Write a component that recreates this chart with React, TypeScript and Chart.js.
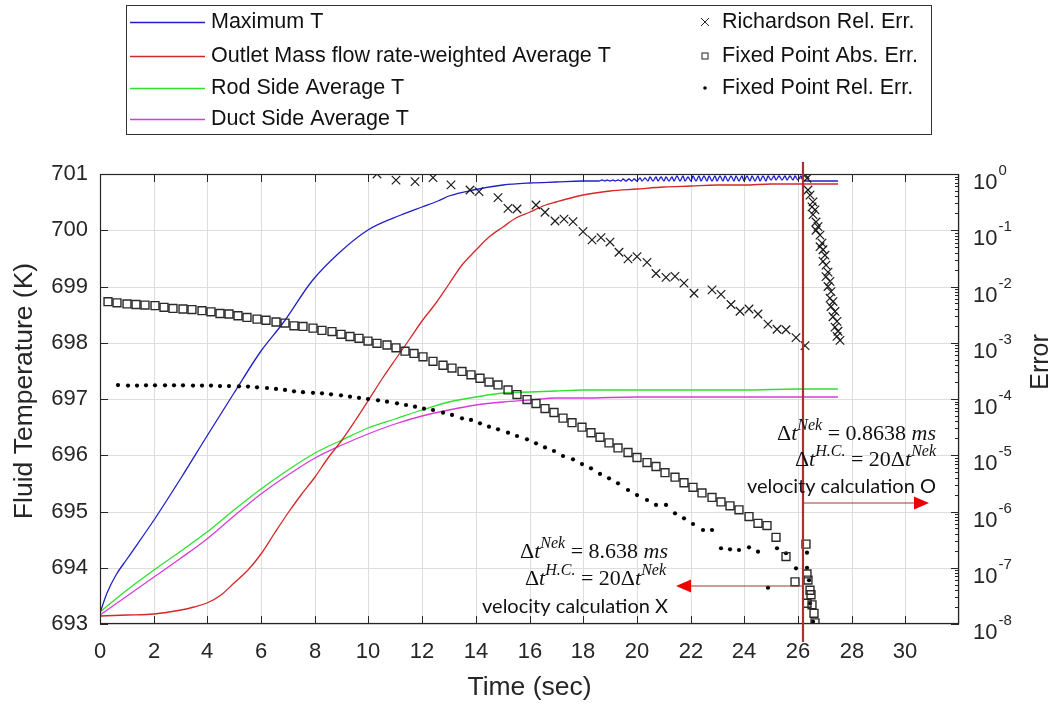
import React, { useEffect, useRef } from 'react';
import { Chart, registerables } from 'chart.js';

Chart.register(...registerables);

// ---- Temperature histories (left axis, K) ----
const maxTTime = [
  0, 0.25, 0.6, 1, 2, 3, 4, 5, 6, 6.8, 7.9, 8.9, 10, 11.2, 12, 12.6, 13, 13.9, 15, 16, 17, 18, 18.5,
  18.6, 18.7, 18.8, 18.9, 19.0, 19.1, 19.2, 19.3, 19.4, 19.5,
  19.6, 19.7, 19.8, 19.9, 20.0, 20.1, 20.2, 20.3, 20.4, 20.5,
  20.6, 20.7, 20.8, 20.9, 21.0, 21.1, 21.2, 21.3, 21.4, 21.5,
  21.6, 21.7, 21.8, 21.9, 22.0, 22.1, 22.2, 22.3, 22.4, 22.5,
  22.6, 22.7, 22.8, 22.9, 23.0, 23.1, 23.2, 23.3, 23.4, 23.5,
  23.6, 23.7, 23.8, 23.9, 24.0, 24.1, 24.2, 24.3, 24.4, 24.5,
  24.6, 24.7, 24.8, 24.9, 25.0, 25.1, 25.2, 25.3, 25.4, 25.5,
  25.6, 25.7, 25.8, 25.9, 26.0, 26.1, 26.2,
  26.3, 27.5,
];
const maxTValue = [
  693.2, 693.55, 693.88, 694.15, 694.85, 695.6, 696.35, 697.1, 697.85, 698.35, 699.1, 699.6, 700.0,
  700.28, 700.42, 700.52, 700.6, 700.72, 700.8, 700.84, 700.86, 700.87, 700.872,
  700.872, 700.886, 700.873, 700.89, 700.874, 700.893, 700.874, 700.898, 700.875, 700.903,
  700.875, 700.91, 700.876, 700.918, 700.876, 700.926, 700.877, 700.933, 700.877, 700.94,
  700.878, 700.945, 700.878, 700.95, 700.879, 700.952, 700.879, 700.955, 700.88, 700.956,
  700.88, 700.958, 700.88, 700.955, 700.881, 700.959, 700.881, 700.96, 700.881, 700.957,
  700.882, 700.961, 700.882, 700.959, 700.882, 700.962, 700.882, 700.96, 700.883, 700.963,
  700.883, 700.961, 700.883, 700.964, 700.883, 700.962, 700.884, 700.965, 700.884, 700.963,
  700.884, 700.966, 700.884, 700.964, 700.885, 700.967, 700.885, 700.965, 700.885, 700.968,
  700.885, 700.966, 700.886, 700.969, 700.886, 700.972, 700.89,
  700.875, 700.875,
];

const outletTime = [
  0, 1, 2, 3, 3.5, 4, 4.5, 5, 5.5, 6, 6.5, 7, 7.5, 8, 8.5, 9, 9.5, 10, 10.5, 11, 11.5, 12, 12.5,
  13, 13.5, 14, 14.5, 15, 15.5, 16, 16.5, 17, 18, 19, 20, 21, 22, 23, 24, 25, 26.2, 27.5,
];
const outletValue = [
  693.15, 693.16, 693.18, 693.24, 693.3, 693.38, 693.52, 693.72, 693.96, 694.25, 694.6, 694.97,
  695.3, 695.62, 695.95, 696.27, 696.6, 696.97, 697.35, 697.7, 698.05, 698.38, 698.7, 699.04,
  699.38, 699.65, 699.88, 700.06, 700.21, 700.33, 700.43, 700.51, 700.63, 700.7, 700.74, 700.77,
  700.79, 700.805, 700.812, 700.816, 700.82, 700.82,
];

const sideTime = [0, 1, 2, 3, 4, 5, 6, 7, 8, 9, 10, 11, 12, 13, 14, 15, 16, 17, 18, 20, 22, 24, 26, 27.5];
const rodValue = [
  693.22, 693.6, 693.96, 694.3, 694.64, 695.03, 695.4, 695.73, 696.04, 696.28, 696.48, 696.65,
  696.8, 696.94, 697.04, 697.1, 697.13, 697.145, 697.155, 697.162, 697.166, 697.168, 697.17, 697.17,
];
const ductValue = [
  693.16, 693.5, 693.84, 694.18, 694.52, 694.92, 695.31, 695.65, 695.95, 696.18, 696.38, 696.55,
  696.69, 696.81, 696.89, 696.95, 696.99, 697.01, 697.02, 697.027, 697.03, 697.032, 697.033, 697.033,
];

// ---- Error estimates (right axis, log) ----
const richTime = [
  10.33, 11.02, 11.73, 12.41, 13.08, 13.8, 14.13, 14.84, 15.21, 15.52, 16.24, 16.57, 16.95, 17.28,
  17.63, 17.98, 18.31, 18.65, 19.0, 19.34, 19.68, 20.01, 20.36, 20.73, 21.08, 21.42, 21.76, 22.12,
  22.78, 23.15, 23.49, 23.84, 24.18, 24.52, 24.89, 25.23, 25.57, 25.92, 26.26,
  26.28, 26.32, 26.38, 26.44, 26.57, 26.51, 26.63, 26.57, 26.69, 26.75, 26.69, 26.82, 26.88, 26.82,
  26.94, 27.0, 26.94, 27.06, 27.12, 27.06, 27.19, 27.12, 27.25, 27.19, 27.31, 27.25, 27.37, 27.31,
  27.44, 27.37, 27.5, 27.44, 27.56,
];
const richValue = [
  1.0, 0.78, 0.73, 0.86, 0.64, 0.52, 0.485, 0.38, 0.245, 0.239, 0.281, 0.209, 0.146, 0.158, 0.142,
  0.0944, 0.0676, 0.0741, 0.0617, 0.0407, 0.0309, 0.0339, 0.0269, 0.017, 0.0145, 0.0151, 0.0115,
  0.00759, 0.00871, 0.00724, 0.00479, 0.00363, 0.00398, 0.00324, 0.00214, 0.00174, 0.0017,
  0.00123, 0.000891,
  0.98, 0.84, 0.52, 0.42, 0.32, 0.26, 0.23, 0.19, 0.14, 0.116, 0.1, 0.082, 0.059, 0.051, 0.045,
  0.036, 0.028, 0.024, 0.018, 0.015, 0.0123, 0.01, 0.0081, 0.0062, 0.0054, 0.0044, 0.0036, 0.0029,
  0.0024, 0.0019, 0.0016, 0.0013, 0.0011,
];

const absTime = [
  0.31, 0.65, 0.99, 1.34, 1.68, 2.05, 2.38, 2.73, 3.08, 3.41, 3.79, 4.12, 4.47, 4.82, 5.15, 5.49,
  5.84, 6.18, 6.55, 6.89, 7.23, 7.57, 7.92, 8.26, 8.63, 8.96, 9.31, 9.66, 9.99, 10.33, 10.68, 11.02,
  11.36, 11.69, 12.04, 12.41, 12.79, 13.13, 13.47, 13.81, 14.15, 14.5, 14.83, 15.21, 15.54, 15.89,
  16.24, 16.57, 16.91, 17.26, 17.6, 17.94, 18.28, 18.62, 18.97, 19.3, 19.68, 20.01, 20.36, 20.71,
  21.04, 21.42, 21.75, 22.1, 22.44, 22.78, 23.12, 23.46, 23.81, 24.18, 24.52, 24.85, 25.2, 25.55,
  25.88, 26.29, 26.34, 26.38, 26.32, 26.44, 26.5, 26.54, 26.59, 26.63,
];
const absValue = [
  5.37e-3, 5.13e-3, 4.9e-3, 4.79e-3, 4.68e-3, 4.57e-3, 4.27e-3, 4.07e-3, 3.98e-3, 3.89e-3, 3.72e-3,
  3.55e-3, 3.31e-3, 3.24e-3, 3.02e-3, 2.82e-3, 2.63e-3, 2.51e-3, 2.34e-3, 2.24e-3, 2.0e-3, 1.95e-3,
  1.82e-3, 1.66e-3, 1.58e-3, 1.41e-3, 1.29e-3, 1.2e-3, 1.07e-3, 9.77e-4, 9.12e-4, 8.13e-4, 7.08e-4,
  6.46e-4, 5.62e-4, 4.68e-4, 3.98e-4, 3.55e-4, 3.09e-4, 2.69e-4, 2.34e-4, 2.0e-4, 1.78e-4, 1.45e-4,
  1.2e-4, 9.77e-5, 8.32e-5, 6.76e-5, 5.75e-5, 4.57e-5, 3.8e-5, 3.16e-5, 2.51e-5, 2.09e-5, 1.66e-5,
  1.35e-5, 1.12e-5, 9.12e-6, 7.41e-6, 6.31e-6, 4.9e-6, 4.07e-6, 3.24e-6, 2.69e-6, 2.14e-6, 1.78e-6,
  1.48e-6, 1.26e-6, 1.07e-6, 8.13e-7, 6.17e-7, 5.62e-7, 3.47e-7, 1.58e-7, 5.62e-8, 2.63e-7, 7.76e-8,
  6.03e-8, 2.34e-8, 3.98e-8, 3.31e-8, 2.19e-8, 1.55e-8, 1.05e-8,
];

const relTime = [
  0.68, 1.03, 1.37, 1.71, 2.06, 2.41, 2.76, 3.1, 3.45, 3.79, 4.13, 4.47, 4.82, 5.16, 5.5, 5.85,
  6.21, 6.55, 6.89, 7.24, 7.57, 7.92, 8.27, 8.61, 8.96, 9.31, 9.66, 10.0, 10.34, 10.69, 11.05, 11.4,
  11.73, 12.08, 12.41, 12.76, 13.13, 13.47, 13.81, 14.15, 14.5, 14.83, 15.21, 15.54, 15.89, 16.24,
  16.57, 16.91, 17.26, 17.61, 17.94, 18.28, 18.62, 18.97, 19.3, 19.68, 20.01, 20.36, 20.73, 21.08,
  21.42, 21.75, 22.1, 22.45, 22.78, 23.12, 23.46, 23.81, 24.18, 24.52, 24.89, 25.23, 25.57, 25.92,
  26.32, 26.34, 26.4, 26.44, 26.57,
];
const relValue = [
  1.77e-4, 1.73e-4, 1.73e-4, 1.75e-4, 1.75e-4, 1.75e-4, 1.75e-4, 1.75e-4, 1.73e-4, 1.73e-4, 1.73e-4,
  1.7e-4, 1.7e-4, 1.68e-4, 1.66e-4, 1.61e-4, 1.57e-4, 1.51e-4, 1.45e-4, 1.37e-4, 1.32e-4, 1.29e-4,
  1.26e-4, 1.21e-4, 1.16e-4, 1.1e-4, 1.05e-4, 1.0e-4, 9.48e-5, 8.97e-5, 8.38e-5, 7.82e-5, 7.31e-5,
  6.73e-5, 6.37e-5, 5.71e-5, 5.2e-5, 4.54e-5, 4.24e-5, 3.7e-5, 3.22e-5, 2.89e-5, 2.52e-5, 2.2e-5,
  1.92e-5, 1.63e-5, 1.38e-5, 1.19e-5, 9.7e-6, 8.47e-6, 6.98e-6, 5.86e-6, 4.65e-6, 3.89e-6, 3.17e-6,
  2.41e-6, 1.96e-6, 1.6e-6, 1.31e-6, 1.31e-6, 9.29e-7, 7.57e-7, 6.0e-7, 4.69e-7, 4.69e-7, 2.22e-7,
  2.13e-7, 2.07e-7, 2.31e-7, 1.93e-7, 4.42e-8, 2.22e-7, 1.81e-7, 9.77e-8, 1.85e-7, 1.0e-7, 6.0e-8,
  2.33e-8, 1.1e-8,
];

// ---- Labels ----
const lineLabels = [
  'Maximum T',
  'Outlet Mass flow rate-weighted Average T',
  'Rod Side Average T',
  'Duct Side Average T',
];
const markerLabels = ['Richardson Rel. Err.', 'Fixed Point Abs. Err.', 'Fixed Point Rel. Err.'];
const xTitle = 'Time (sec)';
const yTitle = 'Fluid Temperature (K)';
const y2Title = 'Error';
const decadeExponents = [0, -1, -2, -3, -4, -5, -6, -7, -8];

// switch time between the two velocity-calculation settings, and arrow levels (K)
const switchTime = 26.2;
const arrowRightEnd = 30.9;
const arrowLeftEnd = 21.45;
const arrowRightLevel = 695.15;
const arrowLeftLevel = 693.68;

const COLORS = {
  blue: '#2020c8',
  red: '#d42828',
  green: '#30e030',
  magenta: '#d83cd8',
  axis: '#262626',
  grid: '#dedede',
  switchLine: '#a83232',
  arrowHead: '#ee0000',
};

const xy = (ts: number[], vs: number[]) => ts.map((t, i) => ({ x: t, y: vs[i] }));

const FONT_SANS = '"Liberation Sans", Arial, sans-serif';
const FONT_MATH = '"Liberation Serif", "DejaVu Serif", serif';
const FONT_NOTE = 'Lato, "Open Sans", sans-serif';

type Part = { t: string; it?: boolean; sup?: boolean };

function drawMath(ctx: CanvasRenderingContext2D, parts: Part[], rightX: number, baseline: number, size: number) {
  const fontFor = (p: Part) => `${p.it ? 'italic ' : ''}${p.sup ? Math.round(size * 0.72) : size}px ${FONT_MATH}`;
  let total = 0;
  const widths = parts.map((p) => {
    ctx.font = fontFor(p);
    const w = ctx.measureText(p.t).width;
    total += w;
    return w;
  });
  let x = rightX - total;
  ctx.textAlign = 'left';
  ctx.textBaseline = 'alphabetic';
  parts.forEach((p, i) => {
    ctx.font = fontFor(p);
    ctx.fillText(p.t, x, p.sup ? baseline - size * 0.45 : baseline);
    x += widths[i];
  });
}

function arrow(ctx: CanvasRenderingContext2D, x0: number, x1: number, y: number) {
  const dir = Math.sign(x1 - x0);
  ctx.strokeStyle = COLORS.switchLine;
  ctx.lineWidth = 1.2;
  ctx.beginPath();
  ctx.moveTo(x0, y);
  ctx.lineTo(x1 - dir * 12, y);
  ctx.stroke();
  ctx.fillStyle = COLORS.arrowHead;
  ctx.beginPath();
  ctx.moveTo(x1, y);
  ctx.lineTo(x1 - dir * 15, y - 6.5);
  ctx.lineTo(x1 - dir * 15, y + 6.5);
  ctx.closePath();
  ctx.fill();
}

const overlayPlugin = {
  id: 'overlay',
  afterDraw(chart: any) {
    const ctx: CanvasRenderingContext2D = chart.ctx;
    const { left, right, top, bottom } = chart.chartArea;
    const xs = chart.scales.x;
    const ys = chart.scales.y;
    const y2 = chart.scales.y2;
    ctx.save();

    // axes box
    ctx.strokeStyle = COLORS.axis;
    ctx.lineWidth = 1.2;
    ctx.strokeRect(left + 0.5, top + 0.5, right - left - 1, bottom - top - 1);

    // inward tick marks
    ctx.lineWidth = 1;
    ctx.beginPath();
    xs.ticks.forEach((t: any) => {
      if (t.value >= 32) return;
      const px = Math.round(xs.getPixelForValue(t.value)) + 0.5;
      ctx.moveTo(px, bottom);
      ctx.lineTo(px, bottom - 8);
      ctx.moveTo(px, top);
      ctx.lineTo(px, top + 8);
    });
    ys.ticks.forEach((t: any) => {
      const py = Math.round(ys.getPixelForValue(t.value)) + 0.5;
      ctx.moveTo(left, py);
      ctx.lineTo(left + 8, py);
    });
    decadeExponents.forEach((k) => {
      const py = Math.round(y2.getPixelForValue(Math.pow(10, k))) + 0.5;
      ctx.moveTo(right, py);
      ctx.lineTo(right - 8, py);
      if (k > -8) {
        for (let m = 2; m <= 9; m++) {
          const pm = Math.round(y2.getPixelForValue(m * Math.pow(10, k - 1))) + 0.5;
          ctx.moveTo(right, pm);
          ctx.lineTo(right - 4, pm);
        }
      }
    });
    ctx.stroke();

    // right axis labels 10^k
    ctx.fillStyle = COLORS.axis;
    ctx.textAlign = 'left';
    ctx.textBaseline = 'alphabetic';
    decadeExponents.forEach((k) => {
      const py = y2.getPixelForValue(Math.pow(10, k));
      ctx.font = `22px ${FONT_SANS}`;
      ctx.fillText('10', right + 14, py + 15);
      const w = ctx.measureText('10').width;
      ctx.font = `15px ${FONT_SANS}`;
      ctx.fillText(String(k), right + 15 + w, py + 1);
    });

    // axis titles
    ctx.font = `26.5px ${FONT_SANS}`;
    ctx.textAlign = 'center';
    ctx.textBaseline = 'middle';
    ctx.fillText(xTitle, (left + right) / 2, 688);
    ctx.save();
    ctx.translate(25, 391);
    ctx.rotate(-Math.PI / 2);
    ctx.fillText(yTitle, 0, 0);
    ctx.restore();
    ctx.save();
    ctx.font = `25px ${FONT_SANS}`;
    ctx.translate(1041, 362);
    ctx.rotate(-Math.PI / 2);
    ctx.fillText(y2Title, 0, 0);
    ctx.restore();

    // switch marker line
    const sx = xs.getPixelForValue(switchTime);
    ctx.strokeStyle = COLORS.switchLine;
    ctx.lineWidth = 2.2;
    ctx.beginPath();
    ctx.moveTo(sx, top - 12);
    ctx.lineTo(sx, bottom + 18);
    ctx.stroke();

    arrow(ctx, sx, xs.getPixelForValue(arrowRightEnd), ys.getPixelForValue(arrowRightLevel));
    arrow(ctx, sx, xs.getPixelForValue(arrowLeftEnd), ys.getPixelForValue(arrowLeftLevel));

    // annotations
    ctx.fillStyle = '#111';
    const rightBlockX = xs.getPixelForValue(arrowRightEnd) + 7;
    drawMath(ctx, [{ t: 'Δ' }, { t: 't', it: true }, { t: 'Nek', it: true, sup: true }, { t: ' = 0.8638 ' }, { t: 'ms', it: true }], rightBlockX, 440, 22);
    drawMath(ctx, [{ t: 'Δ' }, { t: 't', it: true }, { t: 'H.C.', it: true, sup: true }, { t: ' = 20Δ' }, { t: 't', it: true }, { t: 'Nek', it: true, sup: true }], rightBlockX, 466, 22);
    ctx.font = `20px ${FONT_NOTE}`;
    ctx.textAlign = 'right';
    ctx.fillText('velocity calculation O', rightBlockX, 493);

    const leftBlockX = 668;
    drawMath(ctx, [{ t: 'Δ' }, { t: 't', it: true }, { t: 'Nek', it: true, sup: true }, { t: ' = 8.638 ' }, { t: 'ms', it: true }], leftBlockX, 558, 22);
    drawMath(ctx, [{ t: 'Δ' }, { t: 't', it: true }, { t: 'H.C.', it: true, sup: true }, { t: ' = 20Δ' }, { t: 't', it: true }, { t: 'Nek', it: true, sup: true }], leftBlockX - 2, 585, 22);
    ctx.font = `20px ${FONT_NOTE}`;
    ctx.textAlign = 'right';
    ctx.fillText('velocity calculation X', leftBlockX, 613);

    // legend
    ctx.fillStyle = '#fff';
    ctx.fillRect(126, 5, 806, 130);
    ctx.strokeStyle = '#333';
    ctx.lineWidth = 1;
    ctx.strokeRect(126.5, 5.5, 805, 129);
    const rowY = [22, 56, 88, 119];
    const lineColors = [COLORS.blue, COLORS.red, COLORS.green, COLORS.magenta];
    ctx.font = `21.5px ${FONT_SANS}`;
    ctx.textAlign = 'left';
    ctx.textBaseline = 'middle';
    lineLabels.forEach((lab, i) => {
      ctx.strokeStyle = lineColors[i];
      ctx.lineWidth = 1.3;
      ctx.beginPath();
      ctx.moveTo(130, rowY[i] + 0.5);
      ctx.lineTo(205, rowY[i] + 0.5);
      ctx.stroke();
      ctx.fillStyle = '#111';
      ctx.fillText(lab, 211, rowY[i]);
    });
    markerLabels.forEach((lab, i) => {
      ctx.fillStyle = '#111';
      ctx.fillText(lab, 722, rowY[i]);
    });
    const mx = 705;
    ctx.strokeStyle = '#222';
    ctx.lineWidth = 1;
    ctx.beginPath();
    ctx.moveTo(mx - 4, rowY[0] - 4);
    ctx.lineTo(mx + 4, rowY[0] + 4);
    ctx.moveTo(mx + 4, rowY[0] - 4);
    ctx.lineTo(mx - 4, rowY[0] + 4);
    ctx.stroke();
    ctx.strokeRect(mx - 3, rowY[1] - 3, 6, 6);
    ctx.fillStyle = '#000';
    ctx.beginPath();
    ctx.arc(mx, rowY[2], 1.8, 0, Math.PI * 2);
    ctx.fill();

    ctx.restore();
  },
};

export default function App() {
  const ref = useRef<HTMLCanvasElement>(null);
  useEffect(() => {
    if (!ref.current) return;
    const markerBase = { showLine: false, yAxisID: 'y2', pointHoverRadius: 0 };
    const lineBase = { yAxisID: 'y', pointRadius: 0, borderWidth: 1.3, cubicInterpolationMode: 'monotone' as const, fill: false };
    const chart = new Chart(ref.current, {
      type: 'line',
      data: {
        datasets: [
          {
            ...markerBase,
            label: markerLabels[0],
            data: xy(richTime, richValue),
            pointStyle: 'crossRot',
            pointRadius: 6,
            pointBorderColor: '#1a1a1a',
            pointBorderWidth: 1.2,
            borderColor: '#1a1a1a',
          },
          {
            ...markerBase,
            label: markerLabels[1],
            data: xy(absTime, absValue),
            pointStyle: 'rect',
            pointRadius: 5.6,
            pointBorderColor: '#2a2a2a',
            pointBackgroundColor: 'rgba(255,255,255,0)',
            pointBorderWidth: 1.4,
            borderColor: '#2a2a2a',
          },
          {
            ...markerBase,
            label: markerLabels[2],
            data: xy(relTime, relValue),
            pointStyle: 'circle',
            pointRadius: 2.1,
            pointBorderWidth: 0,
            pointBackgroundColor: '#000',
            borderColor: '#000',
          },
          { ...lineBase, label: lineLabels[0], data: xy(maxTTime, maxTValue), borderColor: COLORS.blue },
          { ...lineBase, label: lineLabels[1], data: xy(outletTime, outletValue), borderColor: COLORS.red },
          { ...lineBase, label: lineLabels[2], data: xy(sideTime, rodValue), borderColor: COLORS.green },
          { ...lineBase, label: lineLabels[3], data: xy(sideTime, ductValue), borderColor: COLORS.magenta },
        ] as any,
      },
      options: {
        animation: false,
        responsive: false,
        devicePixelRatio: 1,
        layout: { padding: { top: 174, left: 0, right: 0, bottom: 0 } },
        plugins: { legend: { display: false }, tooltip: { enabled: false } },
        scales: {
          x: {
            type: 'linear',
            min: 0,
            max: 32,
            alignToPixels: true,
            ticks: {
              stepSize: 2,
              padding: 15,
              color: COLORS.axis,
              font: { family: FONT_SANS, size: 22 },
              maxRotation: 0,
              callback: (v: any) => (v >= 32 ? '' : String(v)),
            },
            grid: { color: COLORS.grid, drawTicks: false },
            border: { display: false },
            afterFit: (s: any) => { s.height = 80; },
          },
          y: {
            type: 'linear',
            position: 'left',
            min: 693,
            max: 701,
            alignToPixels: true,
            ticks: { stepSize: 1, padding: 12, color: COLORS.axis, font: { family: FONT_SANS, size: 22 } },
            grid: { color: COLORS.grid, drawTicks: false },
            border: { display: false },
            afterFit: (s: any) => { s.width = 100; },
          },
          y2: {
            type: 'logarithmic',
            position: 'right',
            min: 1e-8,
            max: 1,
            ticks: { display: false },
            grid: { display: false, drawTicks: false },
            border: { display: false },
            afterBuildTicks: (s: any) => {
              s.ticks = decadeExponents.map((k) => ({ value: Math.pow(10, k) }));
            },
            afterFit: (s: any) => { s.width = 97; },
          },
        },
      } as any,
      plugins: [overlayPlugin],
    });
    return () => chart.destroy();
  }, []);
  return (
    <div style={{ position: 'absolute', left: 0, top: 0, width: 1056, height: 704, background: '#fff' }}>
      <canvas ref={ref} width={1056} height={704} style={{ display: 'block', width: 1056, height: 704 }} />
    </div>
  );
}
